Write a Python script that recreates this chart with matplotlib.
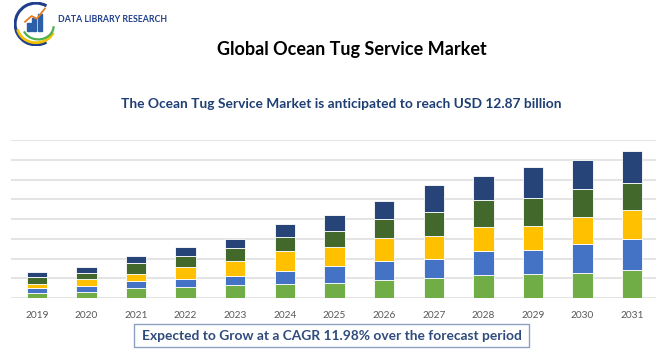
#!/usr/bin/env python3
"""
Global Ocean Tug Service Market - stacked bar chart
"""
import matplotlib
matplotlib.use('Agg')
import matplotlib.pyplot as plt
from matplotlib.patches import Arc, Rectangle
import numpy as np

plt.rcParams['font.family'] = ['Lato', 'DejaVu Sans']

years = ['2019', '2020', '2021', '2022', '2023', '2024', '2025',
         '2026', '2027', '2028', '2029', '2030', '2031']
seg_green = [0.25, 0.31, 0.51, 0.56, 0.64, 0.71, 0.78, 0.90, 1.00, 1.15, 1.20, 1.29, 1.41]
seg_blue = [0.27, 0.29, 0.34, 0.41, 0.47, 0.66, 0.83, 0.97, 1.00, 1.24, 1.22, 1.42, 1.59]
seg_yellow = [0.20, 0.36, 0.39, 0.61, 0.76, 1.02, 0.98, 1.19, 1.12, 1.20, 1.25, 1.39, 1.44]
seg_dkgreen = [0.34, 0.32, 0.51, 0.56, 0.68, 0.69, 0.80, 0.92, 1.22, 1.39, 1.41, 1.42, 1.39]
seg_navy = [0.25, 0.29, 0.37, 0.42, 0.44, 0.66, 0.80, 0.95, 1.39, 1.22, 1.54, 1.46, 1.59]

series = [seg_green, seg_blue, seg_yellow, seg_dkgreen, seg_navy]
colors = ['#70ad47', '#4472c4', '#ffc000', '#43682b', '#264478']

fig = plt.figure(figsize=(6.7, 3.5), dpi=100)
W, H = 670, 350

# plot area: x 11..656, y 140..298 (pixels from top)
ax = fig.add_axes([11 / W, 1 - 298 / H, 645 / W, 158 / H])
x = np.arange(len(years))
bottom = np.zeros(len(years))
for vals, c in zip(series, colors):
    ax.bar(x, vals, width=0.41, bottom=bottom, color=c, edgecolor='white',
           linewidth=0.6, zorder=3)
    bottom += np.array(vals)

ax.set_xlim(-0.52, 12.48)
ax.set_ylim(0, 8)
ax.set_yticks(np.arange(0, 9, 1))
ax.yaxis.grid(True, color='#e4e4e4', linewidth=1.4, zorder=0)
ax.tick_params(axis='y', left=False, labelleft=False)
ax.tick_params(axis='x', bottom=False, labelsize=7.3, labelcolor='#595959', pad=6)
ax.set_xticks(x)
ax.set_xticklabels(years)
for s in ax.spines.values():
    s.set_visible(False)

# titles
fig.text(352 / W, 1 - 50 / H, 'Global Ocean Tug Service Market', ha='center', va='center',
         fontsize=13, fontweight='bold', color='black')
fig.text(341 / W, 1 - 104 / H,
         'The Ocean Tug Service Market is anticipated to reach USD 12.87 billion',
         ha='center', va='center', fontsize=9.9, fontweight='bold', color='#1f3e73')

# bottom CAGR box
fig.patches.append(Rectangle((134 / W, 1 - 347 / H), 395 / W, 23 / H,
                             transform=fig.transFigure, facecolor='white',
                             edgecolor='#8ea2c0', linewidth=1.0))
fig.text(332 / W, 1 - 335.5 / H,
         'Expected to Grow at a CAGR 11.98% over the forecast period',
         ha='center', va='center', fontsize=9.9, fontweight='bold', color='#2f4b7c')

# simple logo
lax = fig.add_axes([14 / W, 1 - 46 / H, 44 / W, 44 / H])
lax.set_xlim(0, 1)
lax.set_ylim(0, 1)
lax.axis('off')
lax.add_patch(Arc((0.5, 0.5), 0.95, 0.95, theta1=60, theta2=300, color='#1f3e8c', lw=2.2))
lax.add_patch(Arc((0.5, 0.45), 0.85, 0.75, theta1=190, theta2=340, color='#f2c200', lw=2.0))
lax.add_patch(Arc((0.55, 0.45), 0.7, 0.6, theta1=200, theta2=360, color='#4caf50', lw=1.6))
for bx, bh in [(0.30, 0.18), (0.42, 0.28), (0.54, 0.38)]:
    lax.add_patch(Rectangle((bx, 0.35), 0.09, bh, color='#2d5fa8'))
lax.plot([0.25, 0.4, 0.52, 0.7], [0.55, 0.68, 0.62, 0.85], color='#e67e22', lw=1.3)
fig.text(58 / W, 1 - 20 / H, 'DATA LIBRARY RESEARCH', ha='left', va='center',
         fontsize=6.3, fontweight='bold', color='#1f3e8c',
         family=['Liberation Sans Narrow', 'Lato', 'DejaVu Sans'])

plt.savefig('out.png', dpi=100)
plt.close()
